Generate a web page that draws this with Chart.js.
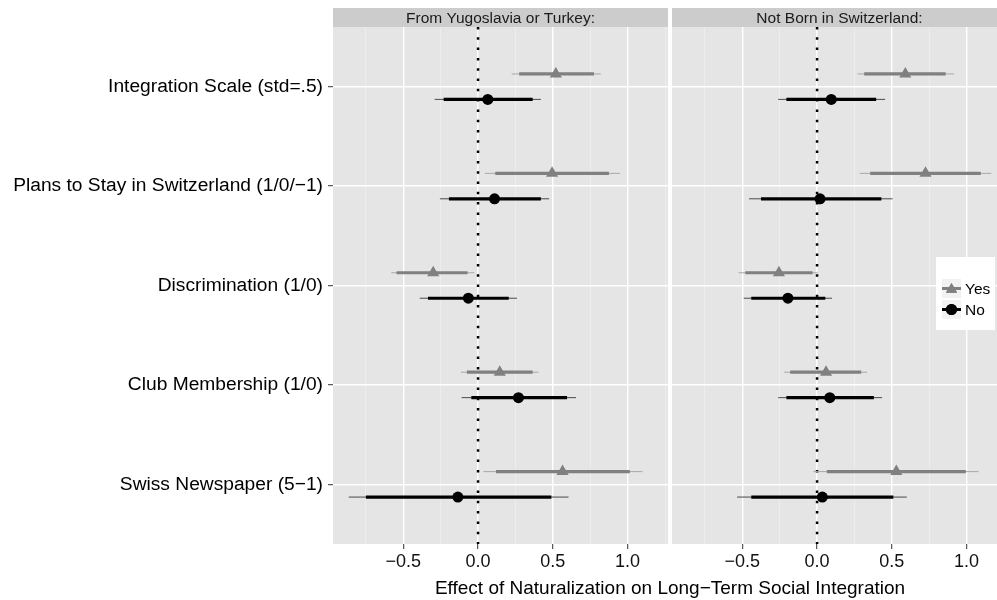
<!DOCTYPE html>
<html>
<head>
<meta charset="utf-8">
<script src="https://cdn.jsdelivr.net/npm/chart.js@4.4.1/dist/chart.umd.min.js"></script>
<style>
  html, body { margin: 0; padding: 0; background: #fff; overflow: hidden; }
  #wrap { position: relative; width: 997px; height: 600px; overflow: hidden; }
  canvas { position: absolute; top: 0; }
  #leftChart { left: 0; }
  #rightChart { left: 672px; }
  #xTitle {
    position: absolute; left: 333px; width: 674px; top: 577px;
    text-align: center; font: 19px "Liberation Sans", Arial, sans-serif; color: #000;
    line-height: 22px;
  }
</style>
</head>
<body>
<div id="wrap">
  <canvas id="leftChart" width="668" height="600"></canvas>
  <canvas id="rightChart" width="335" height="600"></canvas>
  <div id="xTitle">Effect of Naturalization on Long&minus;Term Social Integration</div>
</div>
<script>
// categories, top to bottom
const categories = [
  'Integration Scale (std=.5)',
  'Plans to Stay in Switzerland (1/0/\u22121)',
  'Discrimination (1/0)',
  'Club Membership (1/0)',
  'Swiss Newspaper (5\u22121)'
];
const seriesNames = ['Yes', 'No'];
const panelTitles = ['From Yugoslavia or Turkey:', 'Not Born in Switzerland:'];
const majorTicks = [-0.5, 0, 0.5, 1];
const minorTicks = [-0.75, -0.25, 0.25, 0.75, 1.25];

// panel 1: From Yugoslavia or Turkey
const yugYesEst   = [0.52, 0.495, -0.30, 0.145, 0.565];
const yugYesLoIn  = [0.275, 0.115, -0.545, -0.075, 0.12];
const yugYesHiIn  = [0.775, 0.875, -0.07, 0.365, 1.015];
const yugYesLoOut = [0.225, 0.045, -0.58, -0.115, 0.035];
const yugYesHiOut = [0.82, 0.95, -0.025, 0.405, 1.10];
const yugNoEst    = [0.065, 0.11, -0.065, 0.27, -0.135];
const yugNoLoIn   = [-0.23, -0.195, -0.335, -0.045, -0.75];
const yugNoHiIn   = [0.365, 0.42, 0.205, 0.595, 0.49];
const yugNoLoOut  = [-0.29, -0.255, -0.39, -0.11, -0.865];
const yugNoHiOut  = [0.42, 0.475, 0.26, 0.655, 0.605];

// panel 2: Not Born in Switzerland
const nbsYesEst   = [0.59, 0.725, -0.255, 0.06, 0.53];
const nbsYesLoIn  = [0.315, 0.355, -0.48, -0.18, 0.065];
const nbsYesHiIn  = [0.86, 1.095, -0.03, 0.295, 0.995];
const nbsYesLoOut = [0.27, 0.285, -0.525, -0.22, -0.025];
const nbsYesHiOut = [0.915, 1.165, 0.005, 0.335, 1.08];
const nbsNoEst    = [0.095, 0.02, -0.195, 0.085, 0.035];
const nbsNoLoIn   = [-0.205, -0.375, -0.44, -0.205, -0.44];
const nbsNoHiIn   = [0.395, 0.43, 0.055, 0.38, 0.51];
const nbsNoLoOut  = [-0.26, -0.455, -0.49, -0.26, -0.535];
const nbsNoHiOut  = [0.455, 0.505, 0.10, 0.435, 0.60];

const FONT = '"Liberation Sans", Arial, sans-serif';
const YES_COL = '#808080';
const NO_COL = '#000000';
const DODGE = 0.128;

Chart.defaults.font.family = FONT;

function points(est, dy) {
  return est.map((v, i) => ({ x: v, y: i + 1 + dy }));
}
function segments(lo, hi, dy) {
  const out = [];
  lo.forEach((v, i) => {
    out.push({ x: v, y: i + 1 + dy }, { x: hi[i], y: i + 1 + dy }, { x: null, y: null });
  });
  return out;
}

const facetStrip = {
  id: 'facetStrip',
  beforeDraw(chart, args, opts) {
    const { ctx, chartArea: a } = chart;
    ctx.save();
    ctx.fillStyle = '#e5e5e5';
    ctx.fillRect(a.left, a.top, a.right - a.left, a.bottom - a.top);
    ctx.fillStyle = '#cccccc';
    ctx.fillRect(a.left, 8, a.right - a.left, a.top - 8);
    ctx.fillStyle = '#1a1a1a';
    ctx.font = '15.5px ' + FONT;
    ctx.textAlign = 'center';
    ctx.textBaseline = 'middle';
    ctx.fillText(opts.label, (a.left + a.right) / 2, (8 + a.top) / 2 + 1);
    ctx.restore();
  }
};

const insetLegend = {
  id: 'insetLegend',
  afterDraw(chart, args, opts) {
    if (!opts.show) return;
    const ctx = chart.ctx;
    const x0 = 264, y0 = 257;
    ctx.save();
    ctx.fillStyle = '#ffffff';
    ctx.fillRect(x0, y0, 59, 73);
    const styles = [
      { color: YES_COL, style: 'triangle', r: 6.5 },
      { color: NO_COL, style: 'circle', r: 5.5 }
    ];
    seriesNames.forEach((name, i) => {
      const ky = y0 + 22 + i * 21;
      ctx.fillStyle = '#f2f2f2';
      ctx.fillRect(x0 + 6, ky, 19, 19);
      const cx = x0 + 15.5, cy = ky + 9.5;
      ctx.strokeStyle = styles[i].color;
      ctx.lineWidth = 3;
      ctx.beginPath();
      ctx.moveTo(x0 + 6, cy);
      ctx.lineTo(x0 + 25, cy);
      ctx.stroke();
      ctx.fillStyle = styles[i].color;
      Chart.helpers.drawPoint(ctx, { pointStyle: styles[i].style, radius: styles[i].r, rotation: 0, borderWidth: 0 }, cx, cy + (i === 0 ? 1 : 0));
      ctx.fill();
      ctx.fillStyle = '#000';
      ctx.font = '15.5px ' + FONT;
      ctx.textAlign = 'left';
      ctx.textBaseline = 'middle';
      ctx.fillText(name, x0 + 29, cy + 1);
    });
    ctx.restore();
  }
};

function makePanel(canvasId, title, d, showY, showLegend) {
  const datasets = [
    { data: points(d.yesEst, -DODGE), showLine: false, pointStyle: 'triangle', pointRadius: 7,
      pointBackgroundColor: YES_COL, pointBorderWidth: 0, borderColor: YES_COL },
    { data: points(d.noEst, DODGE), showLine: false, pointStyle: 'circle', pointRadius: 5.5,
      pointBackgroundColor: NO_COL, pointBorderWidth: 0, borderColor: NO_COL },
    { data: segments(d.yesLoIn, d.yesHiIn, -DODGE), borderColor: YES_COL, borderWidth: 3.2, pointRadius: 0, spanGaps: false },
    { data: segments(d.noLoIn, d.noHiIn, DODGE), borderColor: NO_COL, borderWidth: 3.2, pointRadius: 0, spanGaps: false },
    { data: segments(d.yesLoOut, d.yesHiOut, -DODGE), borderColor: '#a8a8a8', borderWidth: 1, pointRadius: 0, spanGaps: false },
    { data: segments(d.noLoOut, d.noHiOut, DODGE), borderColor: '#4a4a4a', borderWidth: 1, pointRadius: 0, spanGaps: false },
    { data: [{ x: 0, y: 0.4 }, { x: 0, y: 5.6 }], borderColor: '#000', borderWidth: 2.5,
      borderDash: [2.5, 7.8], pointRadius: 0 }
  ];
  return new Chart(document.getElementById(canvasId), {
    type: 'line',
    data: { datasets },
    options: {
      responsive: false,
      animation: false,
      devicePixelRatio: 1,
      layout: { autoPadding: false, padding: { top: 27, left: 0, right: 0, bottom: 0 } },
      plugins: {
        legend: { display: false },
        tooltip: { enabled: false },
        facetStrip: { label: title },
        insetLegend: { show: showLegend }
      },
      scales: {
        x: {
          type: 'linear',
          min: -0.97,
          max: 1.27,
          afterBuildTicks: (s) => { s.ticks = majorTicks.concat(minorTicks).sort((a, b) => a - b).map(v => ({ value: v })); },
          afterFit: (s) => { s.height = 56; },
          border: { display: false },
          grid: {
            color: (c) => majorTicks.includes(c.tick.value) ? '#ffffff' : '#f2f2f2',
            lineWidth: (c) => majorTicks.includes(c.tick.value) ? 1.4 : 0.6,
            tickColor: (c) => majorTicks.includes(c.tick.value) ? '#333333' : 'rgba(0,0,0,0)',
            tickLength: 5,
            tickWidth: 1
          },
          ticks: {
            autoSkip: false,
            maxRotation: 0,
            padding: 2,
            color: '#111',
            font: { size: 18 },
            callback: (v) => majorTicks.includes(v) ? v.toFixed(1).replace('-', '\u2212') : ''
          }
        },
        y: {
          type: 'linear',
          min: 0.4,
          max: 5.6,
          reverse: true,
          afterBuildTicks: (s) => { s.ticks = categories.map((c, i) => ({ value: i + 1 })); },
          afterFit: (s) => { s.width = showY ? 333 : 0; },
          border: { display: false },
          grid: {
            color: '#ffffff',
            lineWidth: 1.4,
            drawTicks: showY,
            tickColor: '#333333',
            tickLength: 5,
            tickWidth: 1
          },
          ticks: {
            display: showY,
            autoSkip: false,
            padding: 5,
            color: '#000',
            font: { size: 19.2 },
            callback: (v) => categories[v - 1]
          }
        }
      }
    },
    plugins: [facetStrip, insetLegend]
  });
}

makePanel('leftChart', panelTitles[0], {
  yesEst: yugYesEst, yesLoIn: yugYesLoIn, yesHiIn: yugYesHiIn, yesLoOut: yugYesLoOut, yesHiOut: yugYesHiOut,
  noEst: yugNoEst, noLoIn: yugNoLoIn, noHiIn: yugNoHiIn, noLoOut: yugNoLoOut, noHiOut: yugNoHiOut
}, true, false);

makePanel('rightChart', panelTitles[1], {
  yesEst: nbsYesEst, yesLoIn: nbsYesLoIn, yesHiIn: nbsYesHiIn, yesLoOut: nbsYesLoOut, yesHiOut: nbsYesHiOut,
  noEst: nbsNoEst, noLoIn: nbsNoLoIn, noHiIn: nbsNoHiIn, noLoOut: nbsNoLoOut, noHiOut: nbsNoHiOut
}, false, true);
</script>
</body>
</html>
